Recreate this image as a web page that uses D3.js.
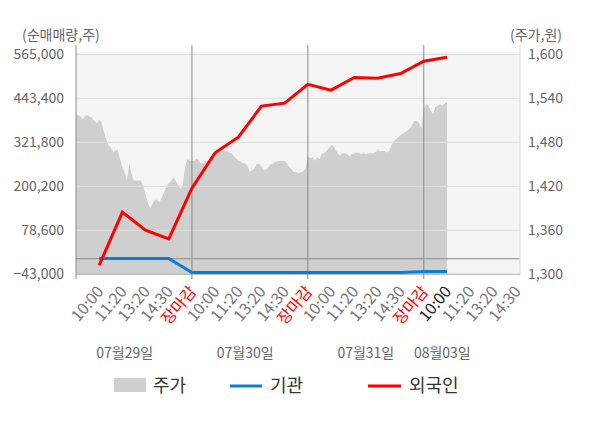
<!DOCTYPE html>
<html>
<head>
<meta charset="utf-8">
<script src="https://cdn.jsdelivr.net/npm/d3@7"></script>
<style>
  body { margin: 0; background: #fff; }
  svg { display: block; font-family: "Noto Sans CJK KR", "Noto Sans", sans-serif; }
</style>
</head>
<body>
<div id="chart"></div>
<script>
const width = 600;
const height = 428;

// x axis: 5 slots per trading day, slot labels
const slotLabels = ["10:00", "11:20", "13:20", "14:30", "장마감",
  "10:00", "11:20", "13:20", "14:30", "장마감",
  "10:00", "11:20", "13:20", "14:30", "장마감",
  "10:00", "11:20", "13:20", "14:30"];
const currentSlot = 16;
const dayLabels = ["07월29일", "07월30일", "07월31일", "08월03일"];
const dayLabelSlot = [2.1, 7.3, 12.5, 15.8];
const dayBreaks = [5, 10, 15];

// net buying (shares) at slots 1..16
const institution = [1000, 1000, 1000, 1000, -38000, -38000, -38000, -38000, -38000,
  -38000, -38000, -38000, -38000, -38000, -35000, -35000];
const foreign = [-18000, 129000, 79000, 55000, 195000, 293000, 336000, 422000, 430000,
  482000, 466000, 501000, 499000, 512000, 546000, 557000];

// share price, one reading per 0.1 slot
const priceDay1 = [1518, 1517, 1515, 1511, 1517, 1517, 1515, 1513, 1509, 1506, 1511, 1507, 1495, 1485, 1476, 1473, 1466, 1469, 1469, 1457,
  1446, 1438, 1428, 1451, 1436, 1428, 1428, 1428, 1428, 1419, 1409, 1397, 1390, 1397, 1401, 1402, 1398, 1405, 1412, 1420,
  1424, 1427, 1432, 1428, 1421, 1417, 1421, 1445, 1457, 1455];
const priceDay2 = [1454, 1455, 1458, 1455, 1451, 1451, 1454, 1455, 1460, 1464, 1466, 1466, 1468, 1469, 1469, 1468, 1466, 1465, 1461, 1458,
  1455, 1454, 1451, 1451, 1447, 1440, 1442, 1445, 1450, 1451, 1447, 1442, 1443, 1446, 1450, 1451, 1453, 1454, 1455, 1455,
  1454, 1451, 1446, 1443, 1440, 1439, 1438, 1439, 1440, 1445];
const priceDay3 = [1462, 1458, 1460, 1455, 1460, 1457, 1464, 1465, 1468, 1472, 1476, 1475, 1469, 1464, 1462, 1465, 1465, 1464, 1461, 1464,
  1465, 1466, 1465, 1464, 1465, 1464, 1465, 1465, 1465, 1466, 1469, 1468, 1468, 1468, 1466, 1468, 1476, 1481, 1484, 1487,
  1490, 1492, 1494, 1496, 1499, 1503, 1509, 1509, 1506, 1499];
const priceDay4 = [1526, 1532, 1530, 1524, 1518, 1528, 1530, 1532, 1530, 1533, 1535];

const leftTicks = [-43000, 78600, 200200, 321800, 443400, 565000];
const rightTicks = [1300, 1360, 1420, 1480, 1540, 1600];

const plot = { left: 76, right: 520, top: 54.3, bottom: 274.3 };

const svg = d3.select("#chart")
  .append("svg")
  .attr("width", width)
  .attr("height", height);

const x = d3.scaleLinear().domain([0, 19.15]).range([plot.left, plot.right]);
const yLeft = d3.scaleLinear().domain([-43000, 565000]).range([plot.bottom, plot.top]);
const yRight = d3.scaleLinear().domain([1300, 1600]).range([plot.bottom, plot.top]);

const price = [...priceDay1, ...priceDay2, ...priceDay3, ...priceDay4]
  .map((p, i) => ({ s: i / 10, p }));

// background
svg.append("rect")
  .attr("x", plot.left)
  .attr("y", plot.top - 2)
  .attr("width", plot.right - plot.left)
  .attr("height", plot.bottom - plot.top + 2)
  .attr("fill", "#f4f4f4");

// price area
const area = d3.area()
  .x(d => x(d.s))
  .y0(plot.bottom)
  .y1(d => yRight(d.p));

svg.append("path")
  .datum(price)
  .attr("d", area)
  .attr("fill", "#cfcfcf");

// gridlines
svg.append("g")
  .selectAll("line")
  .data(leftTicks.slice(1))
  .join("line")
  .attr("x1", plot.left)
  .attr("x2", plot.right)
  .attr("y1", d => yLeft(d))
  .attr("y2", d => yLeft(d))
  .attr("stroke", "#dcdcdc")
  .attr("stroke-width", 1);

// bottom axis line
svg.append("line")
  .attr("x1", plot.left).attr("x2", plot.right)
  .attr("y1", plot.bottom).attr("y2", plot.bottom)
  .attr("stroke", "#b0b0b0");

// zero line
svg.append("line")
  .attr("x1", plot.left).attr("x2", plot.right)
  .attr("y1", yLeft(0)).attr("y2", yLeft(0))
  .attr("stroke", "#8a8a8a")
  .attr("stroke-width", 1);

// right frame line
svg.append("line")
  .attr("x1", plot.right).attr("x2", plot.right)
  .attr("y1", 45).attr("y2", plot.bottom)
  .attr("stroke", "#dcdcdc");

// left axis + day separators
svg.append("g")
  .selectAll("line")
  .data([0, ...dayBreaks])
  .join("line")
  .attr("x1", d => x(d))
  .attr("x2", d => x(d))
  .attr("y1", 45)
  .attr("y2", 279)
  .attr("stroke", "#8a8a8a")
  .attr("stroke-width", 1);

// lines
const line = d3.line()
  .x((d, i) => x(i + 1))
  .y(d => yLeft(d));

svg.append("path")
  .datum(institution)
  .attr("d", line)
  .attr("fill", "none")
  .attr("stroke", "#0a7ed4")
  .attr("stroke-width", 3);

svg.append("path")
  .datum(foreign)
  .attr("d", line)
  .attr("fill", "none")
  .attr("stroke", "#ff0000")
  .attr("stroke-width", 3);

// left axis labels
svg.append("g")
  .selectAll("text")
  .data(leftTicks)
  .join("text")
  .attr("x", 64)
  .attr("y", d => yLeft(d))
  .attr("dy", "0.35em")
  .attr("text-anchor", "end")
  .attr("fill", "#666")
  .style("font-size", "14px")
  .text(d => d3.format(",")(d));

// right axis labels
svg.append("g")
  .selectAll("text")
  .data(rightTicks)
  .join("text")
  .attr("x", 528)
  .attr("y", d => yRight(d))
  .attr("dy", "0.35em")
  .attr("text-anchor", "start")
  .attr("fill", "#666")
  .style("font-size", "14px")
  .text(d => d3.format(",")(d));

// axis titles
svg.append("text")
  .attr("x", 22).attr("y", 40)
  .attr("fill", "#666")
  .style("font-size", "14px")
  .text("(순매매량,주)");

svg.append("text")
  .attr("x", 562).attr("y", 40)
  .attr("text-anchor", "end")
  .attr("fill", "#666")
  .style("font-size", "14px")
  .text("(주가,원)");

// x slot labels
svg.append("g")
  .selectAll("text")
  .data(slotLabels)
  .join("text")
  .attr("transform", (d, i) => `translate(${x(i + 1) + 1},${plot.bottom + 14}) rotate(-50)`)
  .attr("text-anchor", "end")
  .attr("dy", "0.35em")
  .attr("fill", (d, i) => d === "장마감" ? "#ff0000" : (i + 1 === currentSlot ? "#222" : "#777"))
  .style("font-size", "16px")
  .text(d => d);

// day labels
svg.append("g")
  .selectAll("text")
  .data(dayLabels)
  .join("text")
  .attr("x", (d, i) => x(dayLabelSlot[i]))
  .attr("y", 358)
  .attr("text-anchor", "middle")
  .attr("fill", "#666")
  .style("font-size", "14px")
  .text(d => d);

// legend
const legend = svg.append("g");
legend.append("rect")
  .attr("x", 114).attr("y", 378)
  .attr("width", 32).attr("height", 14)
  .attr("fill", "#cfcfcf");
legend.append("text")
  .attr("x", 153).attr("y", 392)
  .attr("fill", "#333")
  .style("font-size", "18px")
  .text("주가");

legend.append("line")
  .attr("x1", 230).attr("x2", 262)
  .attr("y1", 386).attr("y2", 386)
  .attr("stroke", "#0a7ed4").attr("stroke-width", 3);
legend.append("text")
  .attr("x", 270).attr("y", 392)
  .attr("fill", "#333")
  .style("font-size", "18px")
  .text("기관");

legend.append("line")
  .attr("x1", 368).attr("x2", 401)
  .attr("y1", 386).attr("y2", 386)
  .attr("stroke", "#ff0000").attr("stroke-width", 3);
legend.append("text")
  .attr("x", 409).attr("y", 392)
  .attr("fill", "#333")
  .style("font-size", "18px")
  .text("외국인");
</script>
</body>
</html>
